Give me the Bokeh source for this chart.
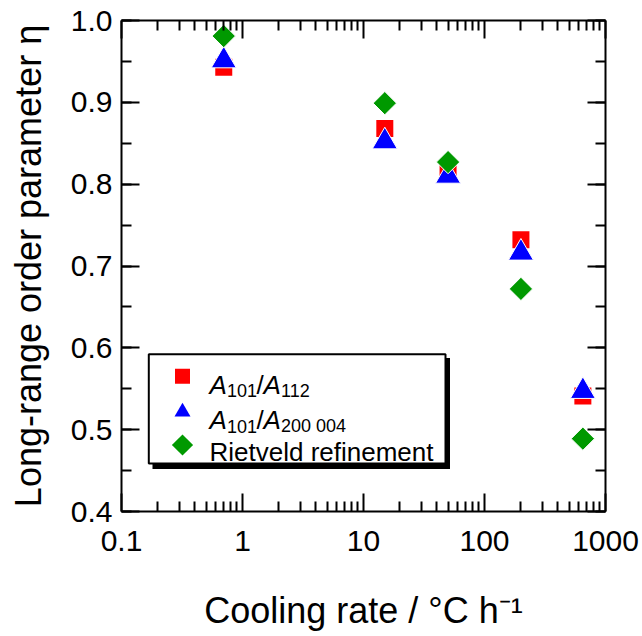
import numpy as np
from bokeh.plotting import figure
from bokeh.models import (Range1d, LogAxis, LinearAxis, FixedTicker, SingleIntervalTicker,
                          CustomJSTickFormatter, PrintfTickFormatter, BoxAnnotation, Label)
from bokeh.embed import file_html
from bokeh.resources import INLINE

# ---- data ----
cooling_rate = [0.7, 15, 50, 200, 650]            # °C h^-1
eta_a101_a112 = [0.943, 0.868, 0.815, 0.732, 0.541]
eta_a101_a200_004 = [0.951, 0.852, 0.810, 0.716, 0.547]
eta_rietveld = [0.981, 0.899, 0.827, 0.672, 0.489]
x_tick_values = [0.1, 1, 10, 100, 1000]
y_tick_interval = 0.1

FONT = "Liberation Sans"
W, H = 642, 636
BL, BR, BT, BB = 121, 37, 20, 125
XMIN, XMAX, YMIN, YMAX = 0.1, 1000, 0.4, 1.0

p = figure(width=W, height=H, x_axis_type="log",
           x_range=Range1d(XMIN, XMAX), y_range=Range1d(YMIN, YMAX),
           output_backend="svg", toolbar_location=None,
           min_border_left=BL, min_border_right=BR, min_border_top=BT, min_border_bottom=BB)
p.background_fill_color = "white"
p.border_fill_color = "white"
p.outline_line_color = None
p.xgrid.visible = False
p.ygrid.visible = False

x_minor = [k * 10.0 ** d for d in range(-1, 3) for k in range(2, 10)]


def style_axis(ax, size="30px"):
    ax.axis_line_width = 2
    ax.axis_line_color = "black"
    ax.major_tick_in = 18
    ax.major_tick_out = 0
    ax.minor_tick_in = 10
    ax.minor_tick_out = 0
    ax.major_tick_line_width = 2
    ax.minor_tick_line_width = 2
    ax.major_tick_line_color = "black"
    ax.minor_tick_line_color = "black"
    ax.major_label_text_font = FONT
    ax.major_label_text_font_size = size
    ax.major_label_text_color = "black"


def style_title(ax, standoff):
    ax.axis_label_text_font = FONT
    ax.axis_label_text_font_size = "36px"
    ax.axis_label_text_font_style = "normal"
    ax.axis_label_text_color = "black"
    ax.axis_label_standoff = standoff


xa = p.xaxis[0]
xa.ticker = FixedTicker(ticks=x_tick_values, minor_ticks=x_minor)
xa.formatter = CustomJSTickFormatter(code="return tick.toString()")
style_axis(xa)
xa.major_label_standoff = 19
xa.axis_label = "Cooling rate / °C h\u207b\u00b9"
style_title(xa, 36)

ya = p.yaxis[0]
ya.ticker = SingleIntervalTicker(interval=y_tick_interval, num_minor_ticks=2)
ya.formatter = PrintfTickFormatter(format="%.1f")
style_axis(ya)
ya.major_label_standoff = 9
ya.axis_label = "Long-range order parameter η"
style_title(ya, 19)

top = LogAxis(ticker=FixedTicker(ticks=x_tick_values, minor_ticks=x_minor),
              formatter=CustomJSTickFormatter(code="return ''"))
style_axis(top, "1px")
top.major_label_standoff = 0
p.add_layout(top, "above")

right = LinearAxis(ticker=SingleIntervalTicker(interval=y_tick_interval, num_minor_ticks=2),
                   formatter=CustomJSTickFormatter(code="return ''"))
style_axis(right, "1px")
right.major_label_standoff = 0
p.add_layout(right, "right")

RED, BLUE, GREEN = "#ff0000", "#0000ff", "#009900"

# ---- data marks ----
p.scatter(cooling_rate, eta_a101_a112, marker="square", size=17,
          fill_color=RED, line_color=None)
p.scatter(cooling_rate, eta_a101_a200_004, marker="triangle", size=25,
          fill_color=BLUE, line_color="white", line_width=1)
p.scatter(cooling_rate, eta_rietveld, marker="square", angle=np.pi / 4, size=16.5,
          fill_color=GREEN, line_color="white", line_width=1)


# ---- helpers converting page pixels to data coordinates (for legend annotations) ----
def px2x(px):
    f = (px - BL) / (W - BL - BR)
    return 10 ** (np.log10(XMIN) + f * (np.log10(XMAX) - np.log10(XMIN)))


def px2y(py):
    f = (py - BT) / (H - BT - BB)
    return YMAX - f * (YMAX - YMIN)


# ---- legend (drawn by hand for subscripts) ----
p.add_layout(BoxAnnotation(left=px2x(152), right=px2x(449.5), top=px2y(357.5), bottom=px2y(468.5),
                           fill_color="black", fill_alpha=1, line_color=None, level="underlay"))
p.add_layout(BoxAnnotation(left=px2x(148.3), right=px2x(445), top=px2y(353.7), bottom=px2y(463),
                           fill_color="white", fill_alpha=1, line_color="black", line_alpha=1,
                           line_width=2, level="underlay"))

p.scatter([px2x(182)], [px2y(375.7)], marker="square", size=15, fill_color=RED, line_color=None)
p.scatter([px2x(182)], [px2y(411.5)], marker="triangle", size=16, fill_color=BLUE, line_color=None)
p.scatter([px2x(182)], [px2y(444.5)], marker="square", angle=np.pi / 4, size=15,
          fill_color=GREEN, line_color=None)


def add_text(px, py, text, size, italic=False, align="left"):
    p.add_layout(Label(x=px2x(px), y=px2y(py), text=text, text_font=FONT,
                       text_font_size=f"{size}px",
                       text_font_style="italic" if italic else "normal",
                       text_baseline="alphabetic", text_align=align, text_color="black"))


for base, sub2 in ((384, "112"), (419.5, "200 004")):
    add_text(209, base, "A", 26, italic=True)
    add_text(226.5, base + 6, "101", 18)
    add_text(256, base, "/", 26)
    add_text(263, base, "A", 26, italic=True)
    add_text(280.5, base + 6, sub2, 18)
add_text(209, 451, "Rietveld refinement", 26)

open("out.html", "w").write(file_html(p, INLINE))
